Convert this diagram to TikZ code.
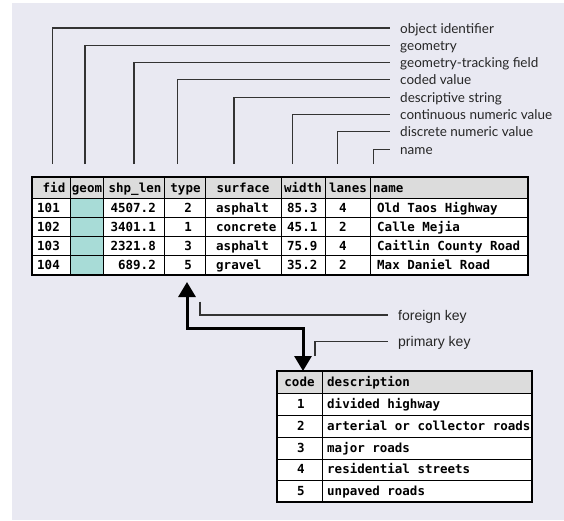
\documentclass[tikz,border=0pt]{standalone}
\usepackage{fontspec}
\usepackage{tikz}
\usetikzlibrary{arrows.meta}
\newfontfamily\gillfont{Lato}
\newfontfamily\keysfont{Liberation Sans}
\newfontfamily\typefont{DejaVu Sans Mono}
\definecolor{paper}{HTML}{E9E9F2}
\definecolor{headgray}{HTML}{DCDCDC}
\definecolor{geomteal}{HTML}{A8DCD7}
\tikzset{
	lbl/.style={anchor=west, inner sep=0pt, text height=10pt, text depth=0pt, font=\gillfont\fontsize{13.5}{15}\selectfont, text=black!85},
	keylbl/.style={anchor=west, inner sep=0pt, text height=10pt, text depth=0pt, font=\keysfont\fontsize{14}{16}\selectfont, text=black!85},
	leader/.style={line width=1.1pt, color=black!80},
	cell/.style={inner sep=0pt, text height=9pt, text depth=0pt, font=\typefont\bfseries\fontsize{12.5}{14}\selectfont},
	grid/.style={line width=0.8pt},
	frame/.style={line width=2pt},
	link/.style={line width=3pt, {Triangle[width=17pt,length=15pt]}-{Triangle[width=17pt,length=15pt]}},
}

\begin{document}
\begin{tikzpicture}[x=1pt, y=-1pt]
		%%%%% START %%%%%
		\useasboundingbox (0,0) rectangle (564,520);
		\fill[paper] (12,3) rectangle (564,520);
		
		% field labels
		\node[lbl] (oid) at (400,28) {object identifier};
		\node[lbl] (geo) at (400,45.3) {geometry};
		\node[lbl] (track) at (400,62.6) {geometry-tracking field};
		\node[lbl] (coded) at (400,79.9) {coded value};
		\node[lbl] (descr) at (400,97.2) {descriptive string};
		\node[lbl] (contin) at (400,114.5) {continuous numeric value};
		\node[lbl] (discr) at (400,131.8) {discrete numeric value};
		\node[lbl] (nm) at (400,149.1) {name};
		
		\coordinate (oidfoot) at (52.3,164);
		\coordinate (geofoot) at (85,164);
		\coordinate (trackfoot) at (134,164);
		\coordinate (codedfoot) at (177.7,164);
		\coordinate (descrfoot) at (234,164);
		\coordinate (continfoot) at (292.7,164);
		\coordinate (discrfoot) at (337.3,164);
		\coordinate (nmfoot) at (373.3,164);
		
		\draw[leader] (oidfoot) |- ([xshift=-10pt]oid.west);
		\draw[leader] (geofoot) |- ([xshift=-10pt]geo.west);
		\draw[leader] (trackfoot) |- ([xshift=-10pt]track.west);
		\draw[leader] (codedfoot) |- ([xshift=-10pt]coded.west);
		\draw[leader] (descrfoot) |- ([xshift=-10pt]descr.west);
		\draw[leader] (continfoot) |- ([xshift=-10pt]contin.west);
		\draw[leader] (discrfoot) |- ([xshift=-10pt]discr.west);
		\draw[leader] (nmfoot) |- ([xshift=-10pt]nm.west);
		
		% roads table
		\fill[white] (32,177) rectangle (528,275);
		\fill[headgray] (32,177) rectangle (528,198.5);
		\fill[geomteal] (70.7,198.5) rectangle (103,275);
		\foreach \y in {198.5,217.5,236.5,255.5} \draw[grid] (32,\y) -- (528,\y);
		\foreach \x in {70.7,103,164,205.7,281,325.7,370.7} \draw[grid] (\x,177) -- (\x,275);
		\draw[frame] (32,177) rectangle (528,275);
		
		\node[cell] (hfid) at (54,188) {fid};
		\node[cell] (hgeom) at (87,188) {geom};
		\node[cell] (hlen) at (135,188) {shp\_len};
		\node[cell] (htype) at (185.5,188) {type};
		\node[cell] (hsurf) at (243,188) {surface};
		\node[cell] (hwidth) at (303,188) {width};
		\node[cell] (hlanes) at (348,188) {lanes};
		\node[cell, anchor=west] (hname) at (373,188) {name};
		
		\foreach \fid/\len/\typ/\surf/\wid/\lan/\nam [count=\r from 0] in {
			101/4507.2/2/asphalt/85.3/4/Old Taos Highway,
			102/3401.1/1/concrete/45.1/2/Calle Mejia,
			103/2321.8/3/asphalt/75.9/4/Caitlin County Road,
			104/689.2/5/gravel/35.2/2/Max Daniel Road}{
			\node[cell, anchor=west] (fid\r) at (37,208+19*\r) {\fid};
			\node[cell, anchor=east] (len\r) at (156,208+19*\r) {\len};
			\node[cell, anchor=east] (typ\r) at (192,208+19*\r) {\typ};
			\node[cell, anchor=west] (surf\r) at (216,208+19*\r) {\surf};
			\node[cell, anchor=west] (wid\r) at (287,208+19*\r) {\wid};
			\node[cell] (lan\r) at (343,208+19*\r) {\lan};
			\node[cell, anchor=west] (nam\r) at (377,208+19*\r) {\nam};
		}
		
		% lookup table
		\fill[white] (277,371) rectangle (532,502);
		\fill[headgray] (277,371) rectangle (532,393);
		\foreach \y in {393,415,437,459,480} \draw[grid] (277,\y) -- (532,\y);
		\draw[grid] (322,371) -- (322,502);
		\draw[frame] (277,371) rectangle (532,502);
		
		\node[cell] (hcode) at (299.5,382) {code};
		\node[cell, anchor=west] (hdesc) at (327,382) {description};
		\foreach \cd/\dsc [count=\r from 0] in {
			1/divided highway,
			2/arterial or collector roads,
			3/major roads,
			4/residential streets,
			5/unpaved roads}{
			\node[cell] (cd\r) at (301,404+21.8*\r) {\cd};
			\node[cell, anchor=west] (dsc\r) at (327,404+21.8*\r) {\dsc};
		}
		
		% key labels
		\node[keylbl] (fkey) at (398,315) {foreign key};
		\node[keylbl] (pkey) at (398,341.7) {primary key};
		\coordinate (fkeyfoot) at (200,301.7);
		\coordinate (pkeyfoot) at (315,356);
		\draw[leader] (fkeyfoot) |- ([xshift=-10pt]fkey.west);
		\draw[leader] (pkeyfoot) |- ([xshift=-10pt]pkey.west);
		
		% relationship
		\coordinate (typefoot) at (187,282);
		\coordinate (elbow) at (303,328);
		\coordinate (codetop) at (303,371);
		\draw[link] (typefoot) |- (elbow) -- (codetop);
		
		%%%%% END %%%%%
	\end{tikzpicture}
\end{document}
